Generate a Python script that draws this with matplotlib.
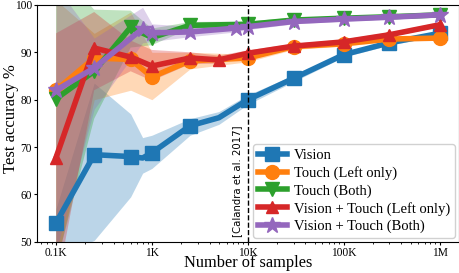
import matplotlib
matplotlib.use("Agg")
import matplotlib.pyplot as plt
import numpy as np

plt.rcParams['font.family'] = ['Liberation Serif', 'DejaVu Serif']
plt.rcParams['mathtext.fontset'] = 'stix'

# Vision
x_vision = [100, 250, 600, 800, 1000, 2500, 5000, 10000, 30000, 100000, 300000, 1000000]
y_vision = [54.0, 68.4, 68.0, 67.7, 68.8, 74.5, 76.2, 80.0, 84.5, 89.5, 92.0, 94.0]
lo_vision = [47.0, 50.3, 59.5, 64.5, 65.5, 72.5, 74.8, 79.0, 83.8, 89.0, 91.5, 93.5]
hi_vision = [57.0, 83.5, 77.0, 72.0, 72.5, 76.0, 77.5, 81.0, 85.2, 90.0, 92.5, 94.5]

# Touch (Left only)
x_touch_l = [100, 250, 600, 1000, 2500, 10000, 30000, 100000, 300000, 1000000]
y_touch_l = [82.0, 88.8, 88.5, 84.8, 88.2, 88.8, 91.2, 91.8, 92.8, 93.0]
lo_touch_l = [45.0, 80.0, 82.0, 80.0, 86.5, 88.0, 90.6, 91.3, 92.3, 92.6]
hi_touch_l = [101.0, 94.0, 98.5, 90.0, 90.0, 89.6, 91.8, 92.3, 93.3, 93.4]

# Touch (Both)
x_touch_b = [100, 250, 600, 1000, 2500, 10000, 30000, 100000, 300000, 1000000]
y_touch_b = [80.2, 86.0, 95.3, 93.1, 95.7, 95.9, 96.8, 97.2, 97.5, 97.9]
lo_touch_b = [45.0, 76.0, 91.0, 91.5, 95.0, 95.3, 96.3, 96.8, 97.2, 97.6]
hi_touch_b = [108.0, 99.0, 98.8, 95.0, 96.4, 96.5, 97.3, 97.6, 97.8, 98.2]

# Vision + Touch (Left only)
x_vt_l = [100, 250, 600, 1000, 2500, 5000, 10000, 30000, 100000, 300000, 1000000]
y_vt_l = [67.8, 90.9, 89.0, 87.1, 88.8, 88.4, 89.8, 91.3, 92.2, 93.7, 95.8]
lo_vt_l = [40.0, 82.0, 86.0, 84.0, 87.5, 87.6, 89.2, 90.8, 91.7, 93.2, 95.3]
hi_vt_l = [94.0, 98.5, 92.5, 90.5, 90.0, 89.3, 90.4, 91.8, 92.7, 94.2, 96.3]

# Vision + Touch (Both)
x_vt_b = [100, 250, 800, 1000, 2500, 7500, 10000, 30000, 100000, 300000, 1000000]
y_vt_b = [82.0, 86.7, 95.0, 94.1, 94.3, 95.1, 95.4, 96.5, 97.0, 97.4, 97.9]
lo_vt_b = [48.0, 78.0, 92.0, 92.3, 93.3, 94.3, 94.8, 96.0, 96.6, 97.0, 97.6]
hi_vt_b = [104.0, 93.0, 99.5, 96.0, 95.5, 95.8, 96.0, 97.0, 97.4, 97.8, 98.2]

labels = ["Vision", "Touch (Left only)", "Touch (Both)",
          "Vision + Touch (Left only)", "Vision + Touch (Both)"]
xtick_vals = [100, 1000, 10000, 100000, 1000000]
xtick_labels = ["0.1K", "1K", "10K", "100K", "1M"]
ytick_vals = [50, 60, 70, 80, 90, 100]
ref_x = 10000
ref_label = "[Calandra et al. 2017]"

colors = ["#1f77b4", "#ff7f0e", "#2ca02c", "#d62728", "#9467bd"]
markers = ["s", "o", "v", "^", "*"]
series = [
    (x_vision, y_vision, lo_vision, hi_vision),
    (x_touch_l, y_touch_l, lo_touch_l, hi_touch_l),
    (x_touch_b, y_touch_b, lo_touch_b, hi_touch_b),
    (x_vt_l, y_vt_l, lo_vt_l, hi_vt_l),
    (x_vt_b, y_vt_b, lo_vt_b, hi_vt_b),
]
markevery = [[0, 1, 2, 4, 5, 7, 8, 9, 10, 11], None, None, None, None]
msizes = [10, 10, 10, 9, 12]

fig = plt.figure(figsize=(4.6, 2.73), dpi=100)
ax = fig.add_axes([0.080, 0.114, 0.918, 0.868])

for (xs, ys, lo, hi), c, m, lab, me, ms in zip(series, colors, markers, labels, markevery, msizes):
    ax.fill_between(xs, lo, hi, color=c, alpha=0.3, linewidth=0)
    ax.plot(xs, ys, color=c, marker=m, lw=4, ms=ms, label=lab, markevery=me)

ax.axvline(ref_x, color='black', ls='--', lw=1)
ax.text(ref_x * 0.88, 51, ref_label, rotation=90, ha='right', va='bottom',
        fontsize=7.3, family='DejaVu Sans')

ax.set_xscale('log')
ax.set_xlim(63, 1.6e6)
ax.set_ylim(50, 100)
ax.set_xticks(xtick_vals)
ax.set_xticklabels(xtick_labels)
ax.set_yticks(ytick_vals)
ax.tick_params(labelsize=8.3, length=2.5, pad=1.0)
ax.tick_params(which='minor', length=1.5)
ax.set_xlabel("Number of samples", fontsize=11.8)
ax.xaxis.set_label_coords(0.5, -0.054)
ax.set_ylabel("Test accuracy %", fontsize=12)
ax.yaxis.set_label_coords(-0.041, 0.52)

leg = ax.legend(loc='lower right', fontsize=10.5, handlelength=2.0, borderpad=0.3,
                labelspacing=0.28, handletextpad=0.5, borderaxespad=0.3, framealpha=0.9)

fig.savefig("out.png", dpi=100)
